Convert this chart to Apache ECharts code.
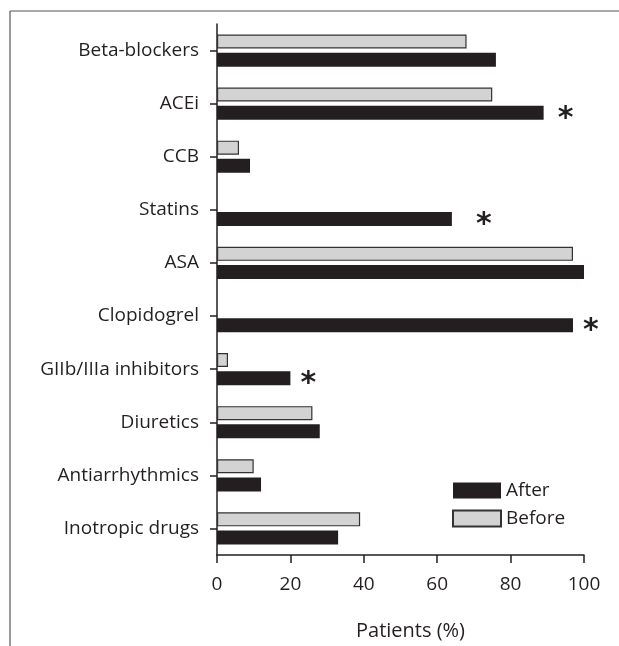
<!DOCTYPE html>
<html>
<head>
<meta charset="utf-8">
<script src="https://cdn.jsdelivr.net/npm/echarts@6/dist/echarts.min.js"></script>
<style>
html,body{margin:0;padding:0;background:#fff;}
#chart{width:619px;height:646px;}
</style>
</head>
<body>
<div id="chart"></div>
<script>
var categories = ['Beta-blockers','ACEi','CCB','Statins','ASA','Clopidogrel','GIIb/IIIa inhibitors','Diuretics','Antiarrhythmics','Inotropic drugs'];
var afterValues = [76, 89, 9, 64, 100, 97, 20, 28, 12, 33];
var beforeValues = [68, 75, 6, 0, 97, 0, 3, 26, 10, 39];
var stars = ['', '*', '', '*', '', '*', '*', '', '', ''];
var xTicks = [0, 20, 40, 60, 80, 100];

var FONT = 'Open Sans';
var starGap = {1: 14, 3: 24, 5: 10, 6: 10};

var chart = echarts.init(document.getElementById('chart'));
var afterData = afterValues.map(function (v, i) {
  return {
    value: v,
    label: {
      show: stars[i] !== '',
      distance: starGap[i] || 12
    }
  };
});
var beforeData = beforeValues.map(function (v) {
  return v === 0 ? {value: v, itemStyle: {borderWidth: 0}} : v;
});

chart.setOption({
  animation: false,
  textStyle: {fontFamily: FONT},
  grid: {left: 217, right: 35, top: 24, bottom: 88, containLabel: false},
  graphic: [
    {type: 'line', shape: {x1: 10, y1: 11, x2: 619, y2: 11}, style: {stroke: '#555', lineWidth: 1.2}},
    {type: 'line', shape: {x1: 10, y1: 11, x2: 10, y2: 646}, style: {stroke: '#555', lineWidth: 1.2}}
  ],
  legend: {
    data: ['After', 'Before'],
    orient: 'vertical',
    left: 447,
    top: 476,
    itemWidth: 48,
    itemHeight: 16,
    itemGap: 9,
    textStyle: {fontFamily: FONT, fontSize: 19, color: '#231f20'},
    icon: 'rect'
  },
  xAxis: {
    type: 'value',
    min: xTicks[0],
    max: xTicks[xTicks.length - 1],
    interval: 20,
    name: 'Patients (%)',
    nameLocation: 'middle',
    nameGap: 66,
    nameTextStyle: {fontFamily: FONT, fontSize: 20, color: '#231f20', padding: [0, 0, 0, 20]},
    axisLine: {show: true, lineStyle: {color: '#231f20', width: 1.5}},
    axisTick: {show: true, length: 8, lineStyle: {color: '#231f20', width: 1.5}},
    axisLabel: {fontFamily: FONT, fontSize: 19, color: '#231f20', margin: 20},
    splitLine: {show: false}
  },
  yAxis: {
    type: 'category',
    data: categories,
    inverse: true,
    axisLine: {show: true, lineStyle: {color: '#231f20', width: 1.5}},
    axisTick: {show: true, alignWithLabel: true, length: 7, lineStyle: {color: '#231f20', width: 1.5}},
    axisLabel: {fontFamily: FONT, fontSize: 19, color: '#231f20', margin: 18}
  },
  series: [
    {
      name: 'Before',
      type: 'bar',
      data: beforeData,
      barWidth: 14,
      barGap: '30%',
      itemStyle: {color: '#d3d3d3', borderColor: '#333', borderWidth: 1.2}
    },
    {
      name: 'After',
      type: 'bar',
      data: afterData,
      barWidth: 14,
      barGap: '30%',
      itemStyle: {color: '#231f20'},
      label: {
        position: 'right',
        formatter: function (p) { return stars[p.dataIndex]; },
        fontSize: 30,
        fontWeight: 'bold',
        color: '#231f20',
        fontFamily: 'DejaVu Sans',
        offset: [0, 6]
      }
    }
  ]
});
</script>
</body>
</html>
